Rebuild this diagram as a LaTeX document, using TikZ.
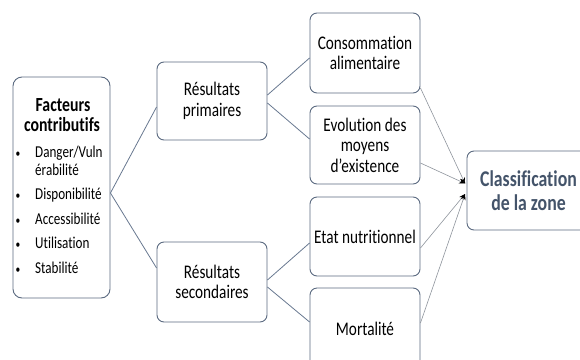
\documentclass[tikz,border=0pt]{standalone}
\usepackage{fontspec}
\setmainfont{Carlito}[FakeStretch=0.79, Ligatures={NoCommon}]
\usetikzlibrary{arrows.meta,calc}
\definecolor{boxline}{HTML}{5B6A80}
\definecolor{linkline}{HTML}{687890}
\definecolor{feedline}{HTML}{8E949C}
\definecolor{slate}{HTML}{44546A}

\begin{document}
\begin{tikzpicture}[x=1pt,y=-1pt,
  box/.style={draw=boxline, line width=0.9pt, rounded corners=7pt, fill=white,
              inner sep=0pt, minimum width=110pt},
  lbl/.style={align=center, inner sep=0pt, font=\fontsize{19.3}{20.5}\selectfont},
  item/.style={anchor=base west, inner sep=0pt, font=\fontsize{16.6}{18}\selectfont},
  dot/.style={anchor=base, inner sep=0pt, font=\fontsize{12}{14}\selectfont},
  link/.style={draw=linkline, line width=0.8pt},
  feed/.style={draw=feedline, line width=0.6pt,
               -{Stealth[black, length=6pt, width=5pt]}},
]
\useasboundingbox (0,0) rectangle (580,359);
\clip (0,0) rectangle (580,359);

% left column: contributing factors
\node[box, minimum width=97pt, minimum height=221pt, rounded corners=9pt] (fact) at (61.5,187.5) {};
\node[anchor=base, inner sep=0pt, font=\bfseries\fontsize{20}{21}\selectfont] (factA) at (63,111) {Facteurs};
\node[anchor=base, inner sep=0pt, font=\bfseries\fontsize{20}{21}\selectfont] (factB) at (62,131) {contributifs};
\node[dot] (b1) at (18,157) {•};
\node[item] (i1) at (35,157) {Danger/Vuln};
\node[item] (i1b) at (35,175) {érabilité};
\node[dot] (b2) at (18,199) {•};
\node[item] (i2) at (35,199) {Disponibilité};
\node[dot] (b3) at (18,224) {•};
\node[item] (i3) at (35,224) {Accessibilité};
\node[dot] (b4) at (18,248) {•};
\node[item] (i4) at (35,248) {Utilisation};
\node[dot] (b5) at (18,273) {•};
\node[item] (i5) at (35,273) {Stabilité};

% middle column: results
\node[box, minimum height=78pt] (prim) at (212,101) {};
\node[lbl] (primT) at (prim) {Résultats\\primaires};
\node[box, minimum height=80pt] (sec) at (212,282) {};
\node[lbl] (secT) at (sec) {Résultats\\secondaires};

% right column: indicators
\node[box, minimum height=80pt] (cons) at (365,53) {};
\node[lbl] (consT) at (cons) {Consommation\\alimentaire};
\node[box, minimum height=78pt] (evo) at (365,145) {};
\node[lbl] (evoT) at (evo) {Evolution des\\moyens\\d’existence};
\node[box, minimum height=79pt] (etat) at (365,236.5) {};
\node[lbl] (etatT) at (etat) {Etat nutritionnel};
\node[box, minimum height=80pt] (mort) at (365,328) {};
\node[lbl] (mortT) at ($(mort)+(0,1)$) {Mortalité};

% outcome
\node[box, minimum width=123pt, minimum height=79pt] (cls) at (528.5,190.5) {};
\node[lbl, text=slate, font=\bfseries\fontsize{22.5}{24}\selectfont] (clsT) at (cls) {Classification\\de la zone};

% connectors
\draw[link] ($(fact.east)+(0,5.5)$) -- ($(prim.west)+(0,6)$);
\draw[link] ($(fact.east)+(0,5.5)$) -- ($(sec.west)+(0,-14)$);
\draw[link] ($(prim.east)+(0,-6)$) -- ($(cons.west)+(0,5)$);
\draw[link] ($(prim.east)+(0,2)$) -- ($(evo.west)+(0,-6)$);
\draw[link] ($(sec.east)+(0,-2)$) -- ($(etat.west)+(0,6.5)$);
\draw[link] ($(sec.east)+(0,5)$) -- ($(mort.west)+(0,-6)$);

\coordinate (tipA) at ($(cls.west)+(-1.5,-7)$);
\coordinate (tipB) at ($(cls.west)+(-1.5,3.5)$);
\draw[feed] ($(cons.east)+(0,35)$) -- (tipA);
\draw[feed] ($(evo.east)+(0,18)$) -- (tipA);
\draw[feed] ($(etat.east)+(0,11.5)$) -- (tipB);
\draw[feed] ($(mort.east)+(0,-5)$) -- (tipB);
\end{tikzpicture}
\end{document}
